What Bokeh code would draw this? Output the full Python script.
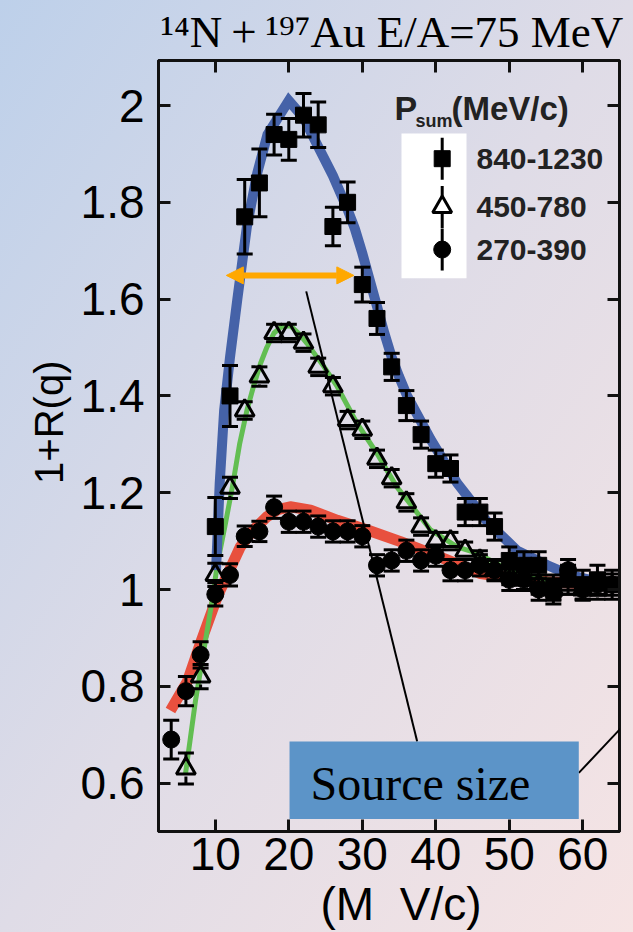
from bokeh.plotting import figure
from bokeh.models import (Label, Arrow, NormalHead, BoxAnnotation, LinearAxis,
                          FixedTicker, NumeralTickFormatter, CustomJSTickFormatter,
                          Title)
from bokeh.embed import file_html
from bokeh.resources import INLINE

# ---- correlation function 1+R(q), three P_sum windows ----
q_high = [10, 12, 14, 16, 18, 20, 22, 24, 26, 28, 30, 32, 34, 36, 38, 40, 42,
          44, 46, 48, 50, 52, 54, 56, 58, 60, 62, 64]
r_high = [1.13, 1.40, 1.77, 1.84, 1.94, 1.93, 1.98, 1.96, 1.75, 1.80, 1.63, 1.56,
          1.46, 1.38, 1.32, 1.26, 1.25, 1.16, 1.16, 1.13, 1.06, 1.05, 1.05, 1.00,
          1.02, 1.01, 1.02, 1.01]
err_high = [0.06, 0.063, 0.077, 0.07, 0.042, 0.043, 0.045, 0.047, 0.04, 0.042,
            0.036, 0.033, 0.028, 0.031, 0.028, 0.028, 0.028, 0.028, 0.028, 0.028,
            0.028, 0.028, 0.028, 0.03, 0.03, 0.03, 0.03, 0.03]

q_mid = [6, 8, 10, 12, 14, 16, 18, 20, 22, 24, 26, 28, 30, 32, 34, 36, 38, 40,
         42, 44, 46, 48, 50, 52, 54, 56, 58, 60, 62]
r_mid = [0.63, 0.82, 1.03, 1.21, 1.37, 1.44, 1.53, 1.53, 1.51, 1.46, 1.42, 1.35,
         1.33, 1.27, 1.23, 1.18, 1.13, 1.10, 1.10, 1.08, 1.06, 1.04, 1.03, 1.02,
         1.01, 1.00, 1.01, 1.00, 1.00]
err_mid = [0.032, 0.025, 0.024, 0.022, 0.018, 0.02, 0.018, 0.018, 0.018, 0.018,
           0.018, 0.018, 0.018, 0.018, 0.018, 0.018, 0.018, 0.018, 0.018, 0.018,
           0.02, 0.02, 0.02, 0.02, 0.02, 0.02, 0.02, 0.02, 0.02]

q_low = [4, 6, 8, 10, 12, 14, 16, 18, 20, 22, 24, 26, 28, 30, 32, 34, 36, 38,
         40, 42, 44, 46, 48, 50, 52, 54, 56, 58, 60, 62, 64]
r_low = [0.69, 0.79, 0.865, 0.99, 1.03, 1.11, 1.12, 1.17, 1.14, 1.14, 1.13, 1.12,
         1.12, 1.11, 1.05, 1.06, 1.08, 1.06, 1.07, 1.04, 1.04, 1.05, 1.04, 1.02,
         1.02, 1.00, 1.00, 1.04, 1.00, 1.01, 1.01]
err_low = [0.04, 0.03, 0.027, 0.024, 0.023, 0.021, 0.021, 0.023] + [0.022] * 23

# model curves
fit_high_q = [10.1, 10.6, 11.2, 12.0, 13.0, 14.3, 15.7, 17.1, 20.0, 22.0, 24.0,
              26.0, 28.0, 29.0, 30.0, 31.0, 32.0, 33.0, 34.0, 35.0, 36.1, 39.3,
              42.9, 47.0, 51.1, 55.2, 58.3, 61.0, 65.0]
fit_high_r = [1.04, 1.22, 1.37, 1.48, 1.60, 1.75, 1.86, 1.94, 2.01, 1.975, 1.915,
              1.855, 1.785, 1.745, 1.695, 1.64, 1.585, 1.53, 1.48, 1.44, 1.40,
              1.31, 1.22, 1.14, 1.08, 1.05, 1.03, 1.02, 1.01]
fit_mid_q = [5.95, 7.3, 8.5, 9.6, 10.25, 11.3, 12.3, 13.3, 14.3, 15.2, 16.15,
             17.0, 18.0, 19.0, 20.2, 21.3, 22.5, 24.8, 26.6, 29.3, 32.0, 34.7,
             36.1, 39.3, 42.9, 45.6, 50.0, 55.0, 60.0, 65.0]
fit_mid_r = [0.62, 0.77, 0.88, 0.98, 1.05, 1.13, 1.21, 1.30, 1.37, 1.42, 1.467,
             1.50, 1.53, 1.543, 1.545, 1.53, 1.508, 1.46, 1.419, 1.343, 1.281,
             1.212, 1.185, 1.123, 1.088, 1.075, 1.04, 1.02, 1.01, 1.0]
fit_low_q = [3.9, 6.2, 8.0, 10.26, 13.4, 15.0, 17.0, 18.5, 20.2, 22.95, 26.6,
             30.7, 35.2, 41.55, 46.1, 50.6, 55.2, 60.0, 65.0]
fit_low_r = [0.75, 0.81, 0.89, 0.985, 1.088, 1.12, 1.15, 1.165, 1.171, 1.164,
             1.143, 1.123, 1.099, 1.061, 1.033, 1.023, 1.016, 1.012, 1.009]

legend_labels = ["840-1230", "450-780", "270-390"]
x_ticks = [10, 20, 30, 40, 50, 60]
y_ticks = [0.6, 0.8, 1.0, 1.2, 1.4, 1.6, 1.8, 2.0]

# source-size annotations (data units)
width_arrow = (11.5, 28.85, 1.649)
pointer_main = (22.37, 1.616, 37.47, 0.686)
pointer_side = (59.46, 0.621, 66.9, 0.741)
box_src = (20.1, 59.46, 0.526, 0.686)

# ---- layout ----
W, H = 633, 932
FL, FR, FT, FB = 158, 619, 60, 832
X0, X1 = 2.27, 65.0
Y0, Y1 = 0.5, 2.093
PX_Y = (Y1 - Y0) / (FB - FT)          # data units per vertical pixel


def px_x(px):
    return X0 + (px - FL) * (X1 - X0) / (FR - FL)


def px_y(py):
    return Y1 - (py - FT) * PX_Y


SANS = "Liberation Sans"
SERIF = "Liberation Serif"
BLUE, GREEN, RED = "#4562a8", "#62be52", "#e8503e"
INK = "#111111"

p = figure(width=W, height=H, x_range=(X0, X1), y_range=(Y0, Y1),
           output_backend="svg", toolbar_location=None,
           min_border_left=FL, min_border_right=W - FR,
           min_border_top=FT, min_border_bottom=H - FB)
p.background_fill_alpha = 0
p.border_fill_alpha = 0
p.styles = {"background": "linear-gradient(to bottom right, #bdd0ea 0%, "
                          "#dfdce7 50%, #f6e4e4 100%)"}
p.grid.visible = False
p.outline_line_color = INK
p.outline_line_width = 3

# reaction label, with math-style spacing around the plus sign
p.title.text = "\u00b9\u2074N\u2009+\u2009\u00b9\u2079\u2077Au E/A=75 MeV"
p.title.text_font = SERIF
p.title.text_font_size = "45px"
p.title.text_font_style = "normal"
p.title.text_color = "black"
p.title.align = "left"
p.title.offset = 2
p.title.standoff = 7

for ax in (p.xaxis[0], p.yaxis[0]):
    ax.major_tick_in = 12
    ax.major_tick_out = 0
    ax.minor_tick_line_color = None
    ax.major_tick_line_width = 3
    ax.axis_line_width = 3
    ax.axis_line_color = INK
    ax.major_tick_line_color = INK
    ax.major_label_text_font = SANS
    ax.major_label_text_font_size = "46px"
    ax.major_label_text_color = "black"
    ax.formatter = NumeralTickFormatter(format="0.[0]")
p.xaxis.ticker = FixedTicker(ticks=x_ticks)
p.yaxis.ticker = FixedTicker(ticks=y_ticks)
p.xaxis.major_label_standoff = 6
p.yaxis.major_label_standoff = 14

# axis titles, placed along their axes
p.add_layout(Title(text="(M \u00a0V/c)", align="left", offset=162,
                   text_font=SANS, text_font_size="46px",
                   text_font_style="normal", text_color="black", standoff=6),
             "below")
p.add_layout(Title(text="1+R(q)", align="right", offset=300,
                   text_font=SANS, text_font_size="40px",
                   text_font_style="normal", text_color="black", standoff=13),
             "left")

for side, ticks in (("above", x_ticks), ("right", y_ticks)):
    ax = LinearAxis(ticker=FixedTicker(ticks=ticks),
                    formatter=CustomJSTickFormatter(code="return ''"),
                    major_tick_in=12, major_tick_out=0,
                    minor_tick_line_color=None, major_tick_line_width=3,
                    axis_line_width=3, axis_line_color=INK,
                    major_tick_line_color=INK, major_label_standoff=0,
                    major_label_text_font_size="1px")
    p.add_layout(ax, side)

# model curves
p.line(fit_low_q, fit_low_r, line_color=RED, line_width=11, line_join="round")
p.line(fit_mid_q, fit_mid_r, line_color=GREEN, line_width=5, line_join="round")
p.line(fit_high_q, fit_high_r, line_color=BLUE, line_width=10, line_join="miter")


def errorbars(q, r, e, gap_px=0):
    gap = gap_px * PX_Y
    lo = [a - b for a, b in zip(r, e)]
    hi = [a + b for a, b in zip(r, e)]
    if gap:
        # keep the bar out of hollow markers
        up0 = [min(a + gap, h) for a, h in zip(r, hi)]
        dn1 = [max(a - gap, l) for a, l in zip(r, lo)]
        p.segment(x0=q, y0=up0, x1=q, y1=hi, line_color="black", line_width=3)
        p.segment(x0=q, y0=lo, x1=q, y1=dn1, line_color="black", line_width=3)
    else:
        p.segment(x0=q, y0=lo, x1=q, y1=hi, line_color="black", line_width=3)
    p.scatter(q, lo, marker="dash", size=16, line_color="black", line_width=3)
    p.scatter(q, hi, marker="dash", size=16, line_color="black", line_width=3)


errorbars(q_low, r_low, err_low)
errorbars(q_mid, r_mid, err_mid, gap_px=8)
errorbars(q_high, r_high, err_high)

p.scatter(q_low, r_low, marker="circle", size=17, color="black")
p.scatter(q_mid, r_mid, marker="triangle", size=19, fill_alpha=0,
          line_color="black", line_width=3)
p.scatter(q_high, r_high, marker="square", size=16, color="black")

# legend
p.add_layout(BoxAnnotation(left=px_x(401), right=px_x(466), top=px_y(133),
                           bottom=px_y(278), fill_color="white", fill_alpha=1,
                           line_alpha=0, level="underlay"))
key_x = px_x(441.7)
key_rows = [px_y(158.3), px_y(206.7), px_y(249.3)]
for yy in key_rows:
    p.segment(x0=[key_x], y0=[yy - 21 * PX_Y], x1=[key_x], y1=[yy + 21 * PX_Y],
              line_color="black", line_width=3)
p.scatter([key_x], [key_rows[0]], marker="square", size=16, color="black")
p.scatter([key_x], [key_rows[1]], marker="triangle", size=19, fill_color="white",
          line_color="black", line_width=3)
p.scatter([key_x], [key_rows[2]], marker="circle", size=17, color="black")
for yy, lab in zip(key_rows, legend_labels):
    p.add_layout(Label(x=px_x(476), y=yy, text=lab, text_font=SANS,
                       text_font_size="30px", text_font_style="bold",
                       text_color="#222222", text_baseline="middle"))

for txt, xp, yp, size in (("P", 394, 108, "34px"), ("sum", 415, 121, "18px"),
                          ("(MeV/c)", 451, 108, "33px")):
    p.add_layout(Label(x=px_x(xp), y=px_y(yp), text=txt, text_font=SANS,
                       text_font_size=size, text_font_style="bold",
                       text_color="#222222", text_baseline="middle"))

# source-size annotation
xa, xb, ya = width_arrow
p.add_layout(Arrow(x_start=xa, y_start=ya, x_end=xb, y_end=ya,
                   line_color="#ffa800", line_width=6,
                   start=NormalHead(size=17, fill_color="#ffa800",
                                    line_color="#ffa800"),
                   end=NormalHead(size=17, fill_color="#ffa800",
                                  line_color="#ffa800")))
for x_s, y_s, x_e, y_e in (pointer_main, pointer_side):
    p.add_layout(Arrow(x_start=x_s, y_start=y_s, x_end=x_e, y_end=y_e,
                       line_color="black", line_width=2, end=None))
bl, br, bb, bt = box_src
p.add_layout(BoxAnnotation(left=bl, right=br, bottom=bb, top=bt,
                           fill_color="#5c94c8", fill_alpha=1, line_alpha=0))
p.add_layout(Label(x=px_x(310), y=px_y(784), text="Source size",
                   text_font=SERIF, text_font_size="48px", text_color="black",
                   text_baseline="middle"))

open("out.html", "w").write(file_html(p, INLINE))
